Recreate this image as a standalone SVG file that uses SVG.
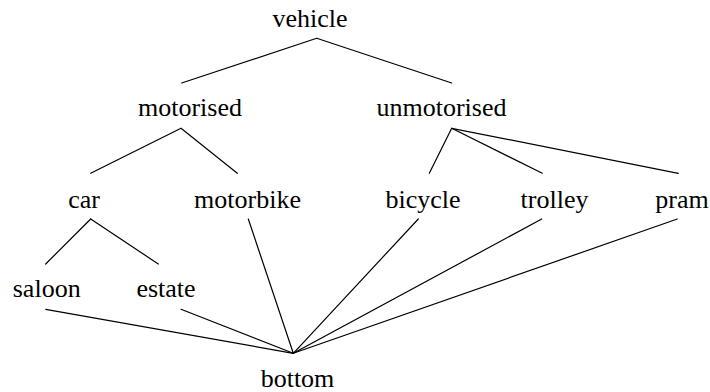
<svg xmlns="http://www.w3.org/2000/svg" width="710" height="392" viewBox="0 0 710 392">
  <defs>
    <style>
      .edge { stroke: #000; stroke-width: 1.2; fill: none; stroke-linecap: round; }
    </style>
  </defs>
  <rect width="710" height="392" fill="#fff"/>
  <!-- tree edges; every leaf converges on the single "bottom" node -->
  <g id="connectors">
    <line class="edge" x1="316.7" y1="38.3" x2="181.7" y2="83"/>
    <line class="edge" x1="316.7" y1="38.3" x2="451.7" y2="83"/>
    <line class="edge" x1="181" y1="128.3" x2="90.7" y2="173.3"/>
    <line class="edge" x1="181" y1="128.3" x2="237.3" y2="173.3"/>
    <line class="edge" x1="451.7" y1="128.3" x2="429.3" y2="173.3"/>
    <line class="edge" x1="451.7" y1="128.3" x2="542.3" y2="173.3"/>
    <line class="edge" x1="451.7" y1="128.3" x2="678.3" y2="173.3"/>
    <line class="edge" x1="90.7" y1="219" x2="45.7" y2="264"/>
    <line class="edge" x1="90.7" y1="219" x2="158.3" y2="264"/>
    <line class="edge" x1="248.3" y1="219" x2="293.3" y2="353.3"/>
    <line class="edge" x1="418.3" y1="219" x2="293.3" y2="353.3"/>
    <line class="edge" x1="541.7" y1="219" x2="293.3" y2="353.3"/>
    <line class="edge" x1="677.3" y1="219" x2="293.3" y2="353.3"/>
    <line class="edge" x1="45.7" y1="309.3" x2="293.3" y2="353.3"/>
    <line class="edge" x1="181" y1="309.3" x2="293.3" y2="353.3"/>
  </g>
  <g id="vehicle"><text x="310" y="27" font-family="'Liberation Serif', 'Times New Roman', serif" font-size="26" text-anchor="middle">vehicle</text></g>
  <g id="motorised"><text x="190" y="116" font-family="'Liberation Serif', 'Times New Roman', serif" font-size="26" text-anchor="middle">motorised</text></g>
  <g id="unmotorised"><text x="441.5" y="116" font-family="'Liberation Serif', 'Times New Roman', serif" font-size="26" text-anchor="middle">unmotorised</text></g>
  <g id="car"><text x="84" y="208" font-family="'Liberation Serif', 'Times New Roman', serif" font-size="26" text-anchor="middle">car</text></g>
  <g id="motorbike"><text x="247.5" y="208" font-family="'Liberation Serif', 'Times New Roman', serif" font-size="26" text-anchor="middle">motorbike</text></g>
  <g id="bicycle"><text x="423" y="208" font-family="'Liberation Serif', 'Times New Roman', serif" font-size="26" text-anchor="middle">bicycle</text></g>
  <g id="trolley"><text x="554.5" y="208" font-family="'Liberation Serif', 'Times New Roman', serif" font-size="26" text-anchor="middle">trolley</text></g>
  <g id="pram"><text x="682" y="208" font-family="'Liberation Serif', 'Times New Roman', serif" font-size="26" text-anchor="middle">pram</text></g>
  <g id="saloon"><text x="46.7" y="297" font-family="'Liberation Serif', 'Times New Roman', serif" font-size="26" text-anchor="middle">saloon</text></g>
  <g id="estate"><text x="166" y="297" font-family="'Liberation Serif', 'Times New Roman', serif" font-size="26" text-anchor="middle">estate</text></g>
  <g id="bottom"><text x="297.5" y="387" font-family="'Liberation Serif', 'Times New Roman', serif" font-size="26" text-anchor="middle">bottom</text></g>
</svg>
